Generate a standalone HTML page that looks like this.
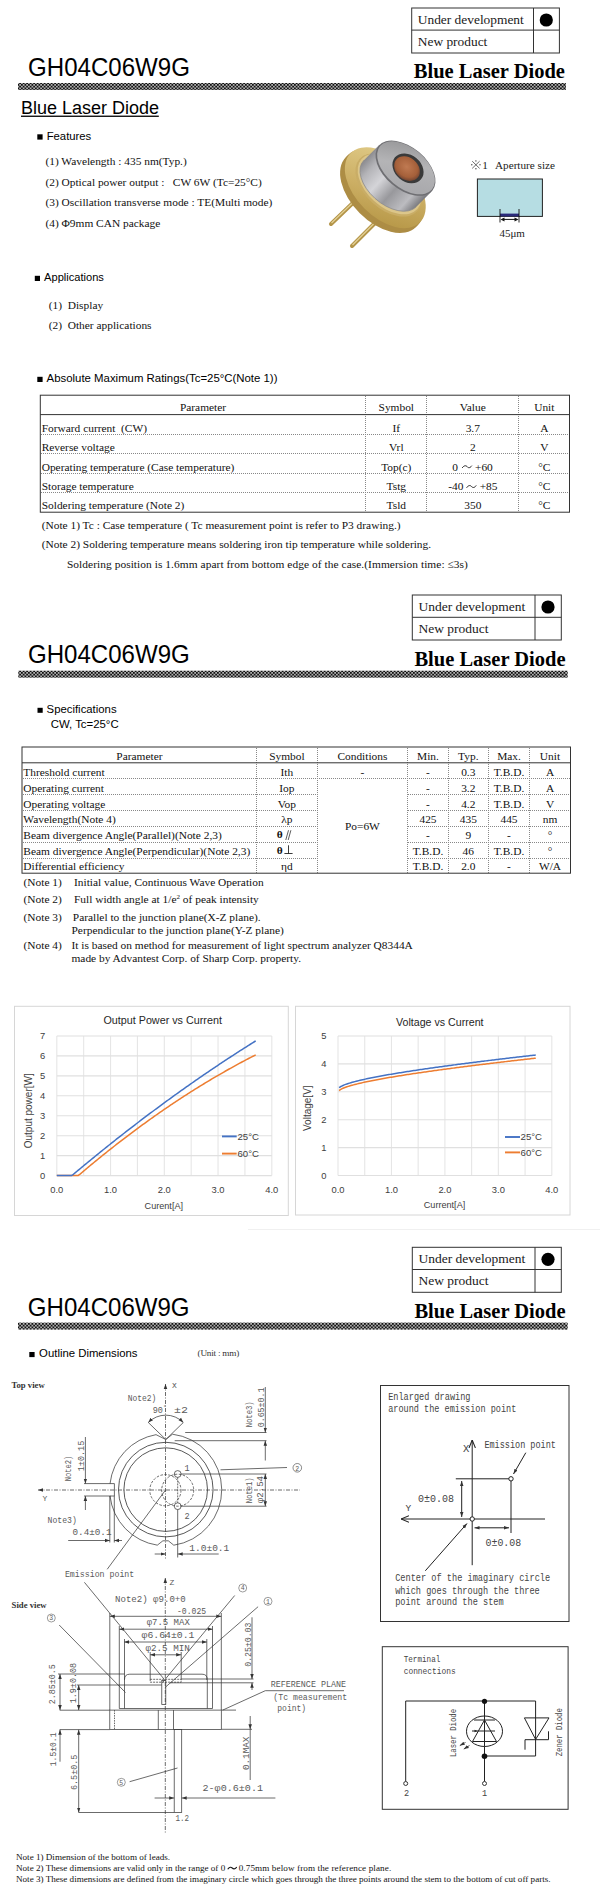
<!DOCTYPE html>
<html>
<head>
<meta charset="utf-8">
<style>
html,body{margin:0;padding:0;background:#fff;}
body{width:600px;height:1900px;position:relative;overflow:hidden;font-family:"Liberation Serif",serif;color:#111;}
svg.layer{position:absolute;left:0;top:0;width:600px;height:1900px;overflow:visible;}
.sans{font-family:"Liberation Sans",sans-serif;}
.serif{font-family:"Liberation Serif",serif;}
.mono{font-family:"Liberation Mono",monospace;}
</style>
</head>
<body>
<svg class="layer" width="600" height="1900" viewBox="0 0 600 1900">
<defs>
  <pattern id="hatch" x="0" y="0" width="3.5" height="3.5" patternUnits="userSpaceOnUse">
    <rect width="3.5" height="3.5" fill="#b0b0b0"/>
    <rect x="0" y="0" width="1.75" height="1.75" fill="#111"/>
    <rect x="1.75" y="1.75" width="1.75" height="1.75" fill="#111"/>
  </pattern>
</defs>

<!-- ============ PAGE 1 HEADER ============ -->
<g id="hdr1">
  <rect x="411.7" y="8" width="147.7" height="45" fill="none" stroke="#333" stroke-width="1"/>
  <line x1="411.7" y1="30.1" x2="559.4" y2="30.1" stroke="#333" stroke-width="1"/>
  <line x1="533.5" y1="8" x2="533.5" y2="53" stroke="#333" stroke-width="1"/>
  <text x="417.8" y="24" class="serif" font-size="13.4" fill="#1a1a1a">Under development</text>
  <text x="417.8" y="46" class="serif" font-size="13.4" fill="#1a1a1a">New product</text>
  <circle cx="546.3" cy="20" r="6.6" fill="#000"/>
  <text x="28.1" y="76.2" class="sans" font-size="25" textLength="161.8" lengthAdjust="spacingAndGlyphs" fill="#000">GH04C06W9G</text>
  <text x="413.8" y="78" class="serif" font-size="20.5" font-weight="bold" fill="#000">Blue Laser Diode</text>
  <rect x="18" y="83" width="548" height="7" fill="url(#hatch)"/>
</g>

<!-- ============ PAGE 1 BODY ============ -->
<g id="p1">
  <text x="21" y="114.3" class="sans" font-size="18" fill="#000">Blue Laser Diode</text>
  <rect x="21" y="115.6" width="137.8" height="1.3" fill="#000"/>

  <rect x="37.3" y="134.3" width="5.3" height="5.3" fill="#000"/>
  <text x="46.7" y="140" class="sans" font-size="11.3" fill="#000">Features</text>
  <g class="serif" font-size="11.4" fill="#111">
    <text x="45.4" y="165.4">(1) Wavelength : 435 nm(Typ.)</text>
    <text x="45.4" y="185.8">(2) Optical power output :&#160;&#160; CW 6W (Tc=25°C)</text>
    <text x="45.4" y="206">(3) Oscillation transverse mode : TE(Multi mode)</text>
    <text x="45.4" y="227">(4) Φ9mm CAN package</text>
  </g>

  <rect x="34.8" y="275.8" width="5.2" height="5.2" fill="#000"/>
  <text x="44.1" y="281" class="sans" font-size="11.1" fill="#000">Applications</text>
  <g class="serif" font-size="11.4" fill="#111">
    <text x="48.75" y="309">(1)&#160; Display</text>
    <text x="48.75" y="328.75">(2)&#160; Other applications</text>
  </g>

  <rect x="37.3" y="376.8" width="5.3" height="5.2" fill="#000"/>
  <text x="46.6" y="382" class="sans" font-size="11.4" fill="#000">Absolute Maximum Ratings(Tc=25°C(Note 1))</text>
</g>

<!-- ============ PRODUCT PHOTO ============ -->
<defs>
  <linearGradient id="gold" x1="0" y1="0" x2="1" y2="1">
    <stop offset="0" stop-color="#e4d08e"/>
    <stop offset="0.5" stop-color="#cdb066"/>
    <stop offset="1" stop-color="#b0903e"/>
  </linearGradient>
  <linearGradient id="goldside" x1="0" y1="0" x2="1" y2="1">
    <stop offset="0" stop-color="#c7a24a"/>
    <stop offset="1" stop-color="#9a7626"/>
  </linearGradient>
  <linearGradient id="silver" x1="0" y1="0" x2="1" y2="0.7">
    <stop offset="0" stop-color="#8a8a8e"/>
    <stop offset="0.22" stop-color="#d2d2d6"/>
    <stop offset="0.5" stop-color="#8c8c90"/>
    <stop offset="0.75" stop-color="#c4c4c8"/>
    <stop offset="1" stop-color="#707074"/>
  </linearGradient>
  <linearGradient id="silvertop" x1="0" y1="0" x2="1" y2="1">
    <stop offset="0" stop-color="#8e8e90"/>
    <stop offset="0.45" stop-color="#b4b4b6"/>
    <stop offset="1" stop-color="#a4a4a8"/>
  </linearGradient>
  <radialGradient id="win" cx="0.45" cy="0.45" r="0.6">
    <stop offset="0" stop-color="#c07a52"/>
    <stop offset="0.7" stop-color="#a5603a"/>
    <stop offset="1" stop-color="#6a4030"/>
  </radialGradient>
  <linearGradient id="pin" x1="0" y1="0" x2="1" y2="0">
    <stop offset="0" stop-color="#a8862e"/>
    <stop offset="0.5" stop-color="#e8d090"/>
    <stop offset="1" stop-color="#b08c38"/>
  </linearGradient>
</defs>
<g id="photo">
  <!-- pins -->
  <line x1="331" y1="224" x2="356" y2="200" stroke="#b39448" stroke-width="4" stroke-linecap="round"/>
  <line x1="331.5" y1="223" x2="356" y2="199.5" stroke="#e4d196" stroke-width="1.2"/>
  <line x1="352" y1="246" x2="376" y2="222" stroke="#b39448" stroke-width="4" stroke-linecap="round"/>
  <line x1="352.5" y1="245" x2="376" y2="221.5" stroke="#e4d196" stroke-width="1.2"/>
  <!-- flange side -->
  <g fill="#ad8d45">
    <ellipse cx="381" cy="192" rx="49.5" ry="30" transform="rotate(45 381 192)"/>
    <ellipse cx="383" cy="190" rx="49.5" ry="30" transform="rotate(45 383 190)"/>
  </g>
  <!-- flange top -->
  <ellipse cx="385.3" cy="187.7" rx="49" ry="29.5" transform="rotate(45 385.3 187.7)" fill="url(#gold)"/>
  <ellipse cx="388.5" cy="185" rx="39" ry="24" transform="rotate(42 388.5 185)" fill="#c9ad66"/>
  <ellipse cx="389.5" cy="184" rx="37.5" ry="23" transform="rotate(42 389.5 184)" fill="#dcc68a"/>
  <!-- can side -->
  <linearGradient id="canside" gradientUnits="userSpaceOnUse" x1="362" y1="158" x2="418" y2="209">
    <stop offset="0" stop-color="#7e7e82"/>
    <stop offset="0.18" stop-color="#b4b4b8"/>
    <stop offset="0.38" stop-color="#d4d4d8"/>
    <stop offset="0.6" stop-color="#98989c"/>
    <stop offset="0.82" stop-color="#bcbcc0"/>
    <stop offset="1" stop-color="#6c6c70"/>
  </linearGradient>
  <path d="M363.96 160.26 A35 21 40 0 0 416.04 206.94 L431.54 191.54 L379.46 144.86 Z" fill="url(#canside)"/>
  <path d="M363.96 160.26 A35 21 40 0 0 416.04 206.94" fill="none" stroke="#8a8a8e" stroke-width="0.8"/>
  <!-- can top face -->
  <ellipse cx="405.5" cy="168.2" rx="35" ry="21" transform="rotate(40 405.5 168.2)" fill="#6f6f73"/>
  <ellipse cx="406" cy="167.8" rx="33.8" ry="19.9" transform="rotate(40 406 167.8)" fill="url(#silvertop)"/>
  <!-- window -->
  <ellipse cx="408" cy="168.3" rx="17" ry="13.2" transform="rotate(40 408 168.3)" fill="#3a3a3a"/>
  <ellipse cx="407" cy="168.6" rx="14" ry="11" transform="rotate(40 407 168.6)" fill="url(#win)"/>
</g>

<!-- ============ APERTURE ============ -->
<g id="aperture">
  <g stroke="#444" stroke-width="0.8"><line x1="472.2" y1="161.2" x2="479.6" y2="168.4"/><line x1="479.6" y1="161.2" x2="472.2" y2="168.4"/></g>
  <g fill="#444"><circle cx="475.9" cy="160.9" r="0.7"/><circle cx="475.9" cy="168.8" r="0.7"/><circle cx="471.8" cy="164.8" r="0.7"/><circle cx="480" cy="164.8" r="0.7"/></g>
  <text x="482.3" y="168.9" class="serif" font-size="11.2" fill="#222">1</text>
  <text x="495" y="168.9" class="serif" font-size="11.2" fill="#222">Aperture size</text>
  <rect x="477.4" y="179" width="65" height="37.4" fill="#b6dde3" stroke="#222" stroke-width="1"/>
  <rect x="500" y="213.6" width="19" height="2.8" fill="#2a2a7a"/>
  <line x1="500" y1="209" x2="500" y2="222.5" stroke="#111" stroke-width="0.9"/>
  <line x1="519" y1="209" x2="519" y2="222.5" stroke="#111" stroke-width="0.9"/>
  <line x1="502" y1="219.4" x2="517" y2="219.4" stroke="#111" stroke-width="1"/>
  <path d="M500.5 219.4 L504.5 217.4 L504.5 221.4 Z M518.5 219.4 L514.5 217.4 L514.5 221.4 Z" fill="#111"/>
  <text x="499.4" y="237" class="serif" font-size="11" fill="#222">45μm</text>
</g>

<!-- ============ ABS MAX TABLE ============ -->
<g id="t1">
  <g stroke="#888" stroke-width="1" stroke-dasharray="1,1">
    <line x1="41" y1="434.5" x2="569" y2="434.5"/>
    <line x1="41" y1="453.5" x2="569" y2="453.5"/>
    <line x1="41" y1="473.5" x2="569" y2="473.5"/>
    <line x1="41" y1="492.5" x2="569" y2="492.5"/>
    <line x1="365.5" y1="396" x2="365.5" y2="512"/>
    <line x1="426.5" y1="396" x2="426.5" y2="512"/>
    <line x1="518.5" y1="396" x2="518.5" y2="512"/>
  </g>
  <rect x="40.3" y="395.2" width="529.2" height="117" fill="none" stroke="#333" stroke-width="1"/>
  <line x1="40.3" y1="414.6" x2="569.5" y2="414.6" stroke="#333" stroke-width="1"/>
  <g class="serif" font-size="11.4" fill="#111">
    <text x="203" y="411.2" text-anchor="middle">Parameter</text>
    <text x="396.3" y="411.2" text-anchor="middle">Symbol</text>
    <text x="472.8" y="411.2" text-anchor="middle">Value</text>
    <text x="544.3" y="411.2" text-anchor="middle">Unit</text>
    <text x="41.7" y="431.7">Forward current&#160; (CW)</text>
    <text x="41.7" y="451.2">Reverse voltage</text>
    <text x="41.7" y="470.7">Operating temperature (Case temperature)</text>
    <text x="41.7" y="490">Storage temperature</text>
    <text x="41.7" y="509.3">Soldering temperature (Note 2)</text>
    <text x="396.3" y="431.7" text-anchor="middle">If</text>
    <text x="396.3" y="451.2" text-anchor="middle">Vrl</text>
    <text x="396.3" y="470.7" text-anchor="middle">Top(c)</text>
    <text x="396.3" y="490" text-anchor="middle">Tstg</text>
    <text x="396.3" y="509.3" text-anchor="middle">Tsld</text>
    <text x="472.8" y="431.7" text-anchor="middle">3.7</text>
    <text x="472.8" y="451.2" text-anchor="middle">2</text>
    <text x="452.3" y="470.7">0</text><text x="475" y="470.7">+60</text>
    <text x="448.2" y="490">-40</text><text x="479.7" y="490">+85</text>
    <text x="472.8" y="509.3" text-anchor="middle">350</text>
    <text x="544.3" y="431.7" text-anchor="middle">A</text>
    <text x="544.3" y="451.2" text-anchor="middle">V</text>
    <text x="544.3" y="470.7" text-anchor="middle">°C</text>
    <text x="544.3" y="490" text-anchor="middle">°C</text>
    <text x="544.3" y="509.3" text-anchor="middle">°C</text>
  </g>
  <g class="serif" font-size="11.4" fill="#111">
    <text x="41.7" y="528.9">(Note 1) Tc : Case temperature ( Tc measurement point is refer to P3 drawing.)</text>
    <text x="41.7" y="548.4">(Note 2) Soldering temperature means soldering iron tip temperature while soldering.</text>
    <text x="66.9" y="568.2" textLength="401" lengthAdjust="spacing">Soldering position is 1.6mm apart from bottom edge of the case.(Immersion time: ≤3s)</text>
  </g>
</g>

<!-- ============ PAGE 2 HEADER ============ -->
<g id="hdr2">
  <rect x="412.3" y="595" width="149" height="45" fill="none" stroke="#333" stroke-width="1"/>
  <line x1="412.3" y1="617.3" x2="561.3" y2="617.3" stroke="#333" stroke-width="1"/>
  <line x1="535" y1="595" x2="535" y2="640" stroke="#333" stroke-width="1"/>
  <text x="418.5" y="611.2" class="serif" font-size="13.5" fill="#1a1a1a">Under development</text>
  <text x="418.5" y="633.2" class="serif" font-size="13.5" fill="#1a1a1a">New product</text>
  <circle cx="548" cy="607" r="6.6" fill="#000"/>
  <text x="28" y="663.4" class="sans" font-size="25.7" textLength="161.8" lengthAdjust="spacingAndGlyphs" fill="#000">GH04C06W9G</text>
  <text x="414.4" y="665.8" class="serif" font-size="20.5" font-weight="bold" fill="#000">Blue Laser Diode</text>
  <rect x="18.3" y="670.7" width="549.4" height="7" fill="url(#hatch)"/>
</g>

<!-- ============ SPEC TABLE ============ -->
<g id="p2">
  <rect x="37.5" y="707.8" width="5.2" height="5" fill="#000"/>
  <text x="46.6" y="712.7" class="sans" font-size="11.35" fill="#000">Specifications</text>
  <text x="50.7" y="728.3" class="sans" font-size="11.4" fill="#000">CW, Tc=25°C</text>

  <g stroke="#888" stroke-width="1" stroke-dasharray="1,1">
    <line x1="23" y1="778.5" x2="570" y2="778.5"/>
    <line x1="23" y1="794.5" x2="317" y2="794.5"/>
    <line x1="23" y1="810.5" x2="317" y2="810.5"/>
    <line x1="23" y1="826.5" x2="317" y2="826.5"/>
    <line x1="23" y1="842.5" x2="317" y2="842.5"/>
    <line x1="23" y1="858.5" x2="317" y2="858.5"/>
    <line x1="408" y1="794.5" x2="570" y2="794.5"/>
    <line x1="408" y1="810.5" x2="570" y2="810.5"/>
    <line x1="408" y1="826.5" x2="570" y2="826.5"/>
    <line x1="408" y1="842.5" x2="570" y2="842.5"/>
    <line x1="408" y1="858.5" x2="570" y2="858.5"/>
    <line x1="256.5" y1="748" x2="256.5" y2="873"/>
    <line x1="317.5" y1="748" x2="317.5" y2="873"/>
    <line x1="407.5" y1="748" x2="407.5" y2="873"/>
    <line x1="448.5" y1="748" x2="448.5" y2="873"/>
    <line x1="488.5" y1="748" x2="488.5" y2="873"/>
    <line x1="529.5" y1="748" x2="529.5" y2="873"/>
  </g>
  <rect x="22" y="747" width="548.5" height="126.2" fill="none" stroke="#333" stroke-width="1"/>
  <line x1="22" y1="762.8" x2="570.5" y2="762.8" stroke="#333" stroke-width="1"/>
  <g class="serif" font-size="11.4" fill="#111">
    <text x="139.4" y="759.5" text-anchor="middle">Parameter</text>
    <text x="286.9" y="759.5" text-anchor="middle">Symbol</text>
    <text x="362.4" y="759.5" text-anchor="middle">Conditions</text>
    <text x="428" y="759.5" text-anchor="middle">Min.</text>
    <text x="468.3" y="759.5" text-anchor="middle">Typ.</text>
    <text x="509" y="759.5" text-anchor="middle">Max.</text>
    <text x="550" y="759.5" text-anchor="middle">Unit</text>

    <text x="23.3" y="775.8">Threshold current</text>
    <text x="23.3" y="791.8">Operating current</text>
    <text x="23.3" y="807.6">Operating voltage</text>
    <text x="23.3" y="823.3">Wavelength(Note 4)</text>
    <text x="23.3" y="839">Beam divergence Angle(Parallel)(Note 2,3)</text>
    <text x="23.3" y="854.8">Beam divergence Angle(Perpendicular)(Note 2,3)</text>
    <text x="23.3" y="870.3">Differential efficiency</text>

    <text x="286.9" y="775.8" text-anchor="middle">Ith</text>
    <text x="286.9" y="791.8" text-anchor="middle">Iop</text>
    <text x="286.9" y="807.6" text-anchor="middle">Vop</text>
    <text x="286.9" y="823.3" text-anchor="middle">λp</text>
    <text x="276.8" y="838.4" font-weight="bold">θ</text>
    <text x="276.8" y="854" font-weight="bold">θ</text>
    <text x="286.9" y="870.3" text-anchor="middle">ηd</text>

    <text x="362.4" y="775.8" text-anchor="middle">-</text>
    <text x="362.4" y="830" text-anchor="middle">Po=6W</text>

    <text x="428" y="775.8" text-anchor="middle">-</text>
    <text x="428" y="791.8" text-anchor="middle">-</text>
    <text x="428" y="807.6" text-anchor="middle">-</text>
    <text x="428" y="823.3" text-anchor="middle">425</text>
    <text x="428" y="839" text-anchor="middle">-</text>
    <text x="428" y="854.8" text-anchor="middle">T.B.D.</text>
    <text x="428" y="870.3" text-anchor="middle">T.B.D.</text>

    <text x="468.3" y="775.8" text-anchor="middle">0.3</text>
    <text x="468.3" y="791.8" text-anchor="middle">3.2</text>
    <text x="468.3" y="807.6" text-anchor="middle">4.2</text>
    <text x="468.3" y="823.3" text-anchor="middle">435</text>
    <text x="468.3" y="839" text-anchor="middle">9</text>
    <text x="468.3" y="854.8" text-anchor="middle">46</text>
    <text x="468.3" y="870.3" text-anchor="middle">2.0</text>

    <text x="509" y="775.8" text-anchor="middle">T.B.D.</text>
    <text x="509" y="791.8" text-anchor="middle">T.B.D.</text>
    <text x="509" y="807.6" text-anchor="middle">T.B.D.</text>
    <text x="509" y="823.3" text-anchor="middle">445</text>
    <text x="509" y="839" text-anchor="middle">-</text>
    <text x="509" y="854.8" text-anchor="middle">T.B.D.</text>
    <text x="509" y="870.3" text-anchor="middle">-</text>

    <text x="550" y="775.8" text-anchor="middle">A</text>
    <text x="550" y="791.8" text-anchor="middle">A</text>
    <text x="550" y="807.6" text-anchor="middle">V</text>
    <text x="550" y="823.3" text-anchor="middle">nm</text>
    <text x="550" y="839" text-anchor="middle">°</text>
    <text x="550" y="854.8" text-anchor="middle">°</text>
    <text x="550" y="870.3" text-anchor="middle">W/A</text>
  </g>
  <g class="serif" font-size="11.4" fill="#111">
    <text x="23.5" y="886.2">(Note 1)</text><text x="74" y="886.2">Initial value, Continuous Wave Operation</text>
    <text x="23.5" y="902.8">(Note 2)</text><text x="74" y="902.8">Full width angle at 1/e<tspan font-size="7" dy="-4">2</tspan><tspan dy="4"> of peak intensity</tspan></text>
    <text x="23.5" y="921.2">(Note 3)</text><text x="72.8" y="921.2">Parallel to the junction plane(X-Z plane).</text>
    <text x="71.5" y="933.6">Perpendicular to the junction plane(Y-Z plane)</text>
    <text x="23.5" y="948.5">(Note 4)</text><text x="71.5" y="948.5">It is based on method for measurement of light spectrum analyzer Q8344A</text>
    <text x="71.5" y="962.4">made by Advantest Corp. of Sharp Corp. property.</text>
  </g>
</g>

<!-- ============ CHARTS ============ -->
<g id="chart1">
<rect x="14.5" y="1006.3" width="273.8" height="209.2" fill="#fff" stroke="#d6d6d6" stroke-width="1"/>
<line x1="56.80" y1="1035.95" x2="56.80" y2="1175.60" stroke="#e6e6e6" stroke-width="1.1"/>
<line x1="83.67" y1="1035.95" x2="83.67" y2="1175.60" stroke="#e6e6e6" stroke-width="1.1"/>
<line x1="110.55" y1="1035.95" x2="110.55" y2="1175.60" stroke="#e6e6e6" stroke-width="1.1"/>
<line x1="137.43" y1="1035.95" x2="137.43" y2="1175.60" stroke="#e6e6e6" stroke-width="1.1"/>
<line x1="164.30" y1="1035.95" x2="164.30" y2="1175.60" stroke="#e6e6e6" stroke-width="1.1"/>
<line x1="191.18" y1="1035.95" x2="191.18" y2="1175.60" stroke="#e6e6e6" stroke-width="1.1"/>
<line x1="218.05" y1="1035.95" x2="218.05" y2="1175.60" stroke="#e6e6e6" stroke-width="1.1"/>
<line x1="244.93" y1="1035.95" x2="244.93" y2="1175.60" stroke="#e6e6e6" stroke-width="1.1"/>
<line x1="271.80" y1="1035.95" x2="271.80" y2="1175.60" stroke="#e6e6e6" stroke-width="1.1"/>
<line x1="56.80" y1="1175.60" x2="271.80" y2="1175.60" stroke="#e0e0e0" stroke-width="1.1"/>
<line x1="56.80" y1="1155.65" x2="271.80" y2="1155.65" stroke="#e0e0e0" stroke-width="1.1"/>
<line x1="56.80" y1="1135.70" x2="271.80" y2="1135.70" stroke="#e0e0e0" stroke-width="1.1"/>
<line x1="56.80" y1="1115.75" x2="271.80" y2="1115.75" stroke="#e0e0e0" stroke-width="1.1"/>
<line x1="56.80" y1="1095.80" x2="271.80" y2="1095.80" stroke="#e0e0e0" stroke-width="1.1"/>
<line x1="56.80" y1="1075.85" x2="271.80" y2="1075.85" stroke="#e0e0e0" stroke-width="1.1"/>
<line x1="56.80" y1="1055.90" x2="271.80" y2="1055.90" stroke="#e0e0e0" stroke-width="1.1"/>
<line x1="56.80" y1="1035.95" x2="271.80" y2="1035.95" stroke="#e0e0e0" stroke-width="1.1"/>
<g class="sans" font-size="9.4" fill="#404040">
<text x="45.3" y="1179.00" text-anchor="end">0</text>
<text x="45.3" y="1159.05" text-anchor="end">1</text>
<text x="45.3" y="1139.10" text-anchor="end">2</text>
<text x="45.3" y="1119.15" text-anchor="end">3</text>
<text x="45.3" y="1099.20" text-anchor="end">4</text>
<text x="45.3" y="1079.25" text-anchor="end">5</text>
<text x="45.3" y="1059.30" text-anchor="end">6</text>
<text x="45.3" y="1039.35" text-anchor="end">7</text>
<text x="56.80" y="1193.2" text-anchor="middle">0.0</text>
<text x="110.55" y="1193.2" text-anchor="middle">1.0</text>
<text x="164.30" y="1193.2" text-anchor="middle">2.0</text>
<text x="218.05" y="1193.2" text-anchor="middle">3.0</text>
<text x="271.80" y="1193.2" text-anchor="middle">4.0</text>
</g>
<text x="103.4" y="1024.3" class="sans" font-size="10.8" textLength="118.5" lengthAdjust="spacingAndGlyphs" fill="#262626">Output Power vs Current</text>
<text x="144.6" y="1208.6" class="sans" font-size="9.1" fill="#404040">Curent[A]</text>
<text transform="translate(31.6 1148.3) rotate(-90)" class="sans" font-size="10" fill="#404040">Output power[W]</text>
<polyline points="56.80,1175.60 58.13,1175.60 59.45,1175.60 60.78,1175.60 62.10,1175.60 63.43,1175.60 64.75,1175.60 66.08,1175.60 67.41,1175.60 68.73,1175.60 70.06,1175.60 71.38,1175.60 72.71,1175.60 74.04,1175.60 75.36,1175.60 76.69,1175.60 78.01,1175.60 79.34,1174.71 80.66,1173.59 81.99,1172.46 83.32,1171.34 84.64,1170.23 85.97,1169.11 87.29,1168.00 88.62,1166.90 89.95,1165.79 91.27,1164.70 92.60,1163.60 93.92,1162.51 95.25,1161.42 96.57,1160.33 97.90,1159.25 99.23,1158.17 100.55,1157.09 101.88,1156.02 103.20,1154.95 104.53,1153.89 105.86,1152.83 107.18,1151.77 108.51,1150.71 109.83,1149.66 111.16,1148.61 112.48,1147.57 113.81,1146.53 115.14,1145.49 116.46,1144.45 117.79,1143.42 119.11,1142.40 120.44,1141.37 121.77,1140.35 123.09,1139.33 124.42,1138.32 125.74,1137.31 127.07,1136.30 128.39,1135.30 129.72,1134.30 131.05,1133.30 132.37,1132.31 133.70,1131.32 135.02,1130.33 136.35,1129.35 137.68,1128.37 139.00,1127.39 140.33,1126.42 141.65,1125.45 142.98,1124.48 144.31,1123.52 145.63,1122.56 146.96,1121.60 148.28,1120.65 149.61,1119.70 150.93,1118.76 152.26,1117.82 153.59,1116.88 154.91,1115.94 156.24,1115.01 157.56,1114.08 158.89,1113.16 160.22,1112.23 161.54,1111.32 162.87,1110.40 164.19,1109.49 165.52,1108.58 166.84,1107.68 168.17,1106.78 169.50,1105.88 170.82,1104.99 172.15,1104.09 173.47,1103.21 174.80,1102.32 176.12,1101.44 177.45,1100.57 178.78,1099.69 180.10,1098.82 181.43,1097.96 182.75,1097.09 184.08,1096.23 185.41,1095.38 186.73,1094.52 188.06,1093.67 189.38,1092.83 190.71,1091.98 192.04,1091.14 193.36,1090.31 194.69,1089.48 196.01,1088.65 197.34,1087.82 198.66,1087.00 199.99,1086.18 201.32,1085.36 202.64,1084.55 203.97,1083.74 205.29,1082.94 206.62,1082.14 207.94,1081.34 209.27,1080.54 210.60,1079.75 211.92,1078.96 213.25,1078.18 214.57,1077.40 215.90,1076.62 217.23,1075.85 218.55,1075.08 219.88,1074.31 221.20,1073.54 222.53,1072.78 223.86,1072.03 225.18,1071.27 226.51,1070.52 227.83,1069.77 229.16,1069.03 230.48,1068.29 231.81,1067.55 233.14,1066.82 234.46,1066.09 235.79,1065.36 237.11,1064.64 238.44,1063.92 239.77,1063.21 241.09,1062.49 242.42,1061.78 243.74,1061.08 245.07,1060.38 246.39,1059.68 247.72,1058.98 249.05,1058.29 250.37,1057.60 251.70,1056.91 253.02,1056.23 254.35,1055.55 255.68,1054.88" fill="none" stroke="#ed7d31" stroke-width="1.5" stroke-linejoin="round"/>
<polyline points="56.80,1175.60 58.13,1175.60 59.45,1175.60 60.78,1175.60 62.10,1175.60 63.43,1175.60 64.75,1175.60 66.08,1175.60 67.41,1175.60 68.73,1175.60 70.06,1175.60 71.38,1175.60 72.71,1174.88 74.04,1173.76 75.36,1172.65 76.69,1171.54 78.01,1170.43 79.34,1169.33 80.66,1168.22 81.99,1167.12 83.32,1166.02 84.64,1164.92 85.97,1163.83 87.29,1162.74 88.62,1161.64 89.95,1160.56 91.27,1159.47 92.60,1158.38 93.92,1157.30 95.25,1156.22 96.57,1155.14 97.90,1154.07 99.23,1152.99 100.55,1151.92 101.88,1150.85 103.20,1149.78 104.53,1148.71 105.86,1147.65 107.18,1146.59 108.51,1145.53 109.83,1144.47 111.16,1143.42 112.48,1142.36 113.81,1141.31 115.14,1140.26 116.46,1139.21 117.79,1138.17 119.11,1137.13 120.44,1136.09 121.77,1135.05 123.09,1134.01 124.42,1132.98 125.74,1131.94 127.07,1130.91 128.39,1129.88 129.72,1128.86 131.05,1127.83 132.37,1126.81 133.70,1125.79 135.02,1124.78 136.35,1123.76 137.68,1122.75 139.00,1121.73 140.33,1120.72 141.65,1119.72 142.98,1118.71 144.31,1117.71 145.63,1116.71 146.96,1115.71 148.28,1114.71 149.61,1113.72 150.93,1112.72 152.26,1111.73 153.59,1110.75 154.91,1109.76 156.24,1108.78 157.56,1107.79 158.89,1106.81 160.22,1105.84 161.54,1104.86 162.87,1103.89 164.19,1102.91 165.52,1101.94 166.84,1100.98 168.17,1100.01 169.50,1099.05 170.82,1098.09 172.15,1097.13 173.47,1096.17 174.80,1095.22 176.12,1094.26 177.45,1093.31 178.78,1092.36 180.10,1091.42 181.43,1090.47 182.75,1089.53 184.08,1088.59 185.41,1087.65 186.73,1086.72 188.06,1085.78 189.38,1084.85 190.71,1083.92 192.04,1082.99 193.36,1082.07 194.69,1081.14 196.01,1080.22 197.34,1079.30 198.66,1078.38 199.99,1077.47 201.32,1076.56 202.64,1075.65 203.97,1074.74 205.29,1073.83 206.62,1072.93 207.94,1072.02 209.27,1071.12 210.60,1070.22 211.92,1069.33 213.25,1068.43 214.57,1067.54 215.90,1066.65 217.23,1065.76 218.55,1064.88 219.88,1063.99 221.20,1063.11 222.53,1062.23 223.86,1061.36 225.18,1060.48 226.51,1059.61 227.83,1058.74 229.16,1057.87 230.48,1057.00 231.81,1056.13 233.14,1055.27 234.46,1054.41 235.79,1053.55 237.11,1052.70 238.44,1051.84 239.77,1050.99 241.09,1050.14 242.42,1049.29 243.74,1048.45 245.07,1047.60 246.39,1046.76 247.72,1045.92 249.05,1045.08 250.37,1044.25 251.70,1043.41 253.02,1042.58 254.35,1041.75 255.68,1040.93" fill="none" stroke="#4472c4" stroke-width="1.5" stroke-linejoin="round"/>
<line x1="222" y1="1136.4" x2="236.7" y2="1136.4" stroke="#4472c4" stroke-width="1.9"/>
<line x1="222" y1="1153.6" x2="236.7" y2="1153.6" stroke="#ed7d31" stroke-width="1.9"/>
<g class="sans" font-size="9.6" fill="#404040"><text x="237.5" y="1140">25°C</text><text x="237.5" y="1157">60°C</text></g>
</g>
<g id="chart2">
<rect x="295.5" y="1006.3" width="274.5" height="208.7" fill="#fff" stroke="#d6d6d6" stroke-width="1"/>
<line x1="338.00" y1="1036.00" x2="338.00" y2="1175.50" stroke="#e6e6e6" stroke-width="1.1"/>
<line x1="364.73" y1="1036.00" x2="364.73" y2="1175.50" stroke="#e6e6e6" stroke-width="1.1"/>
<line x1="391.45" y1="1036.00" x2="391.45" y2="1175.50" stroke="#e6e6e6" stroke-width="1.1"/>
<line x1="418.17" y1="1036.00" x2="418.17" y2="1175.50" stroke="#e6e6e6" stroke-width="1.1"/>
<line x1="444.90" y1="1036.00" x2="444.90" y2="1175.50" stroke="#e6e6e6" stroke-width="1.1"/>
<line x1="471.62" y1="1036.00" x2="471.62" y2="1175.50" stroke="#e6e6e6" stroke-width="1.1"/>
<line x1="498.35" y1="1036.00" x2="498.35" y2="1175.50" stroke="#e6e6e6" stroke-width="1.1"/>
<line x1="525.07" y1="1036.00" x2="525.07" y2="1175.50" stroke="#e6e6e6" stroke-width="1.1"/>
<line x1="551.80" y1="1036.00" x2="551.80" y2="1175.50" stroke="#e6e6e6" stroke-width="1.1"/>
<line x1="338.00" y1="1175.50" x2="551.80" y2="1175.50" stroke="#e0e0e0" stroke-width="1.1"/>
<line x1="338.00" y1="1147.60" x2="551.80" y2="1147.60" stroke="#e0e0e0" stroke-width="1.1"/>
<line x1="338.00" y1="1119.70" x2="551.80" y2="1119.70" stroke="#e0e0e0" stroke-width="1.1"/>
<line x1="338.00" y1="1091.80" x2="551.80" y2="1091.80" stroke="#e0e0e0" stroke-width="1.1"/>
<line x1="338.00" y1="1063.90" x2="551.80" y2="1063.90" stroke="#e0e0e0" stroke-width="1.1"/>
<line x1="338.00" y1="1036.00" x2="551.80" y2="1036.00" stroke="#e0e0e0" stroke-width="1.1"/>
<g class="sans" font-size="9.4" fill="#404040">
<text x="326.5" y="1178.90" text-anchor="end">0</text>
<text x="326.5" y="1151.00" text-anchor="end">1</text>
<text x="326.5" y="1123.10" text-anchor="end">2</text>
<text x="326.5" y="1095.20" text-anchor="end">3</text>
<text x="326.5" y="1067.30" text-anchor="end">4</text>
<text x="326.5" y="1039.40" text-anchor="end">5</text>
<text x="338.00" y="1192.6" text-anchor="middle">0.0</text>
<text x="391.45" y="1192.6" text-anchor="middle">1.0</text>
<text x="444.90" y="1192.6" text-anchor="middle">2.0</text>
<text x="498.35" y="1192.6" text-anchor="middle">3.0</text>
<text x="551.80" y="1192.6" text-anchor="middle">4.0</text>
</g>
<text x="396" y="1026.3" class="sans" font-size="11.5" textLength="87.5" lengthAdjust="spacingAndGlyphs" fill="#262626">Voltage vs Current</text>
<text x="423.8" y="1208" class="sans" font-size="9.1" fill="#404040">Current[A]</text>
<text transform="translate(311.3 1131) rotate(-90)" class="sans" font-size="10" fill="#404040">Voltage[V]</text>
<polyline points="339.07,1090.55 340.38,1089.61 341.69,1088.90 343.00,1088.30 344.31,1087.76 345.63,1087.27 346.94,1086.81 348.25,1086.39 349.56,1085.98 350.87,1085.59 352.18,1085.22 353.49,1084.86 354.80,1084.52 356.12,1084.18 357.43,1083.86 358.74,1083.54 360.05,1083.23 361.36,1082.93 362.67,1082.63 363.98,1082.35 365.30,1082.06 366.61,1081.78 367.92,1081.51 369.23,1081.24 370.54,1080.97 371.85,1080.71 373.16,1080.45 374.47,1080.20 375.79,1079.95 377.10,1079.70 378.41,1079.45 379.72,1079.21 381.03,1078.97 382.34,1078.74 383.65,1078.50 384.96,1078.27 386.28,1078.04 387.59,1077.81 388.90,1077.59 390.21,1077.36 391.52,1077.14 392.83,1076.92 394.14,1076.70 395.46,1076.49 396.77,1076.27 398.08,1076.06 399.39,1075.85 400.70,1075.64 402.01,1075.43 403.32,1075.22 404.63,1075.02 405.95,1074.81 407.26,1074.61 408.57,1074.41 409.88,1074.21 411.19,1074.01 412.50,1073.81 413.81,1073.61 415.12,1073.42 416.44,1073.22 417.75,1073.03 419.06,1072.84 420.37,1072.65 421.68,1072.46 422.99,1072.27 424.30,1072.08 425.62,1071.89 426.93,1071.70 428.24,1071.52 429.55,1071.33 430.86,1071.15 432.17,1070.96 433.48,1070.78 434.79,1070.60 436.11,1070.42 437.42,1070.24 438.73,1070.06 440.04,1069.88 441.35,1069.70 442.66,1069.52 443.97,1069.34 445.28,1069.17 446.60,1068.99 447.91,1068.82 449.22,1068.64 450.53,1068.47 451.84,1068.30 453.15,1068.12 454.46,1067.95 455.78,1067.78 457.09,1067.61 458.40,1067.44 459.71,1067.27 461.02,1067.10 462.33,1066.93 463.64,1066.76 464.95,1066.60 466.27,1066.43 467.58,1066.26 468.89,1066.10 470.20,1065.93 471.51,1065.77 472.82,1065.60 474.13,1065.44 475.44,1065.27 476.76,1065.11 478.07,1064.95 479.38,1064.79 480.69,1064.62 482.00,1064.46 483.31,1064.30 484.62,1064.14 485.94,1063.98 487.25,1063.82 488.56,1063.66 489.87,1063.50 491.18,1063.34 492.49,1063.19 493.80,1063.03 495.11,1062.87 496.43,1062.71 497.74,1062.56 499.05,1062.40 500.36,1062.24 501.67,1062.09 502.98,1061.93 504.29,1061.78 505.60,1061.62 506.92,1061.47 508.23,1061.32 509.54,1061.16 510.85,1061.01 512.16,1060.86 513.47,1060.70 514.78,1060.55 516.10,1060.40 517.41,1060.25 518.72,1060.10 520.03,1059.94 521.34,1059.79 522.65,1059.64 523.96,1059.49 525.27,1059.34 526.59,1059.19 527.90,1059.04 529.21,1058.89 530.52,1058.75 531.83,1058.60 533.14,1058.45 534.45,1058.30 535.76,1058.15" fill="none" stroke="#ed7d31" stroke-width="1.5" stroke-linejoin="round"/>
<polyline points="339.07,1087.73 340.38,1086.78 341.69,1086.06 343.00,1085.45 344.31,1084.90 345.63,1084.41 346.94,1083.94 348.25,1083.51 349.56,1083.10 350.87,1082.71 352.18,1082.33 353.49,1081.97 354.80,1081.62 356.12,1081.28 357.43,1080.95 358.74,1080.63 360.05,1080.32 361.36,1080.01 362.67,1079.71 363.98,1079.42 365.30,1079.13 366.61,1078.85 367.92,1078.57 369.23,1078.30 370.54,1078.03 371.85,1077.77 373.16,1077.50 374.47,1077.25 375.79,1076.99 377.10,1076.74 378.41,1076.49 379.72,1076.25 381.03,1076.01 382.34,1075.77 383.65,1075.53 384.96,1075.30 386.28,1075.06 387.59,1074.83 388.90,1074.61 390.21,1074.38 391.52,1074.16 392.83,1073.93 394.14,1073.71 395.46,1073.49 396.77,1073.28 398.08,1073.06 399.39,1072.85 400.70,1072.64 402.01,1072.43 403.32,1072.22 404.63,1072.01 405.95,1071.80 407.26,1071.60 408.57,1071.39 409.88,1071.19 411.19,1070.99 412.50,1070.79 413.81,1070.59 415.12,1070.39 416.44,1070.20 417.75,1070.00 419.06,1069.81 420.37,1069.61 421.68,1069.42 422.99,1069.23 424.30,1069.04 425.62,1068.85 426.93,1068.66 428.24,1068.47 429.55,1068.29 430.86,1068.10 432.17,1067.91 433.48,1067.73 434.79,1067.55 436.11,1067.36 437.42,1067.18 438.73,1067.00 440.04,1066.82 441.35,1066.64 442.66,1066.46 443.97,1066.28 445.28,1066.10 446.60,1065.92 447.91,1065.75 449.22,1065.57 450.53,1065.40 451.84,1065.22 453.15,1065.05 454.46,1064.87 455.78,1064.70 457.09,1064.53 458.40,1064.36 459.71,1064.19 461.02,1064.01 462.33,1063.84 463.64,1063.67 464.95,1063.51 466.27,1063.34 467.58,1063.17 468.89,1063.00 470.20,1062.83 471.51,1062.67 472.82,1062.50 474.13,1062.34 475.44,1062.17 476.76,1062.01 478.07,1061.84 479.38,1061.68 480.69,1061.52 482.00,1061.35 483.31,1061.19 484.62,1061.03 485.94,1060.87 487.25,1060.70 488.56,1060.54 489.87,1060.38 491.18,1060.22 492.49,1060.06 493.80,1059.90 495.11,1059.75 496.43,1059.59 497.74,1059.43 499.05,1059.27 500.36,1059.11 501.67,1058.96 502.98,1058.80 504.29,1058.64 505.60,1058.49 506.92,1058.33 508.23,1058.18 509.54,1058.02 510.85,1057.87 512.16,1057.71 513.47,1057.56 514.78,1057.41 516.10,1057.25 517.41,1057.10 518.72,1056.95 520.03,1056.79 521.34,1056.64 522.65,1056.49 523.96,1056.34 525.27,1056.19 526.59,1056.04 527.90,1055.89 529.21,1055.74 530.52,1055.59 531.83,1055.44 533.14,1055.29 534.45,1055.14 535.76,1054.99" fill="none" stroke="#4472c4" stroke-width="1.5" stroke-linejoin="round"/>
<line x1="505" y1="1137" x2="520" y2="1137" stroke="#4472c4" stroke-width="1.9"/>
<line x1="505" y1="1152.4" x2="520" y2="1152.4" stroke="#ed7d31" stroke-width="1.9"/>
<g class="sans" font-size="9.6" fill="#404040"><text x="520.6" y="1140.2">25°C</text><text x="520.6" y="1156">60°C</text></g>
</g>

<line x1="248" y1="1229.5" x2="600" y2="1229.5" stroke="#f0f0f0" stroke-width="1"/>

<!-- ============ PAGE 3 HEADER ============ -->
<g id="hdr3">
  <rect x="412.3" y="1247.3" width="149" height="45" fill="none" stroke="#333" stroke-width="1"/>
  <line x1="412.3" y1="1269.5" x2="561.3" y2="1269.5" stroke="#333" stroke-width="1"/>
  <line x1="535" y1="1247.3" x2="535" y2="1292.3" stroke="#333" stroke-width="1"/>
  <text x="418.5" y="1263.4" class="serif" font-size="13.5" fill="#1a1a1a">Under development</text>
  <text x="418.5" y="1285.4" class="serif" font-size="13.5" fill="#1a1a1a">New product</text>
  <circle cx="548" cy="1259.3" r="6.6" fill="#000"/>
  <text x="27.8" y="1315.7" class="sans" font-size="25.7" textLength="161.8" lengthAdjust="spacingAndGlyphs" fill="#000">GH04C06W9G</text>
  <text x="414.4" y="1318" class="serif" font-size="20.5" font-weight="bold" fill="#000">Blue Laser Diode</text>
  <rect x="18" y="1322.6" width="549.7" height="7" fill="url(#hatch)"/>
</g>

<!-- ============ PAGE 3 BODY ============ -->
<g id="p3">
  <rect x="29.3" y="1352" width="5.3" height="5.1" fill="#000"/>
  <text x="39.1" y="1356.6" class="sans" font-size="11.35" fill="#000">Outline Dimensions</text>
  <text x="197.6" y="1355.6" class="serif" font-size="9.2" textLength="41.6" lengthAdjust="spacing" fill="#333">(Unit : mm)</text>
  <text x="11.5" y="1387.6" class="serif" font-size="8.7" font-weight="bold" fill="#333">Top view</text>
  <text x="11.6" y="1608.3" class="serif" font-size="8.7" font-weight="bold" fill="#333">Side view</text>
  <g class="serif" font-size="9.1" fill="#111">
    <text x="16" y="1860.2">Note 1) Dimension of the bottom of leads.</text>
    <text x="16" y="1871.3">Note 2) These dimensions are valid only in the range of 0</text><text x="238.7" y="1871.3" textLength="152.5" lengthAdjust="spacing">0.75mm below from the reference plane.</text>
    <text x="16" y="1882">Note 3) These dimensions are defined from the imaginary circle which goes through the three points around the stem to the bottom of cut off parts.</text>
  </g>
</g>

<!-- ============ TOP VIEW DRAWING ============ -->
<defs>
  <marker id="ar" viewBox="0 0 10 10" refX="10" refY="5" markerWidth="5" markerHeight="5" orient="auto-start-reverse" markerUnits="userSpaceOnUse">
    <path d="M0 1.5 L10 5 L0 8.5 Z" fill="#333"/>
  </marker>
  <marker id="arL" viewBox="0 0 10 10" refX="10" refY="5" markerWidth="8" markerHeight="8" orient="auto-start-reverse" markerUnits="userSpaceOnUse">
    <path d="M0 1 L10 5 L0 9" fill="none" stroke="#222" stroke-width="1.3"/>
  </marker>
</defs>
<g id="topview" fill="none" stroke="#3a3a3a" stroke-width="0.75">
  <!-- axes -->
  <line x1="165.5" y1="1384" x2="165.5" y2="1560" stroke-dasharray="4,1.5,1,1.5" marker-start="url(#ar)"/>
  <line x1="38" y1="1490" x2="300" y2="1490" stroke-dasharray="4,1.5,1,1.5" marker-start="url(#ar)"/>
  <!-- outer outline with notches -->
  <path d="M156 1434.65 A56 56 0 0 0 110.04 1483.6 L114.4 1483.6 L114.4 1496 L110.04 1496 A56 56 0 0 0 157.3 1545.17 L162.9 1540.8 L168.3 1540.8 L173.8 1545.2 A56 56 0 0 0 172.5 1434.2"/>
  <path d="M156 1434.65 L165.8 1439.5 L172.5 1434.2"/>
  <circle cx="165.8" cy="1489.6" r="47.3" stroke-width="0.85"/>
  <circle cx="165.7" cy="1489.6" r="41.8" stroke-width="0.85"/>
  <!-- 90 deg arc -->
  <path d="M148.3 1422.5 A24.5 24.5 0 0 1 183.3 1422.5" marker-start="url(#ar)" marker-end="url(#ar)"/>
  <line x1="148.3" y1="1422.5" x2="165.8" y2="1439.5"/>
  <line x1="183.3" y1="1422.5" x2="165.8" y2="1439.5"/>
  <!-- dashed circles -->
  <circle cx="165.4" cy="1490.2" r="15.6" stroke-dasharray="2.5,1.5"/>
  <circle cx="177.7" cy="1490.2" r="16" stroke-dasharray="2.5,1.5"/>
  <!-- pins -->
  <circle cx="177.7" cy="1474" r="3.4"/>
  <circle cx="177.7" cy="1506.2" r="3.4"/>
  <line x1="177.7" y1="1477.4" x2="177.7" y2="1502.8" stroke-dasharray="2,1"/>
  <line x1="177.7" y1="1509.6" x2="177.7" y2="1557.5"/>
  <!-- right dims -->
  <line x1="185.2" y1="1432.5" x2="266.5" y2="1432.5"/>
  <line x1="174.7" y1="1440.7" x2="266.5" y2="1440.7"/>
  <line x1="265.3" y1="1387" x2="265.3" y2="1432.5" marker-end="url(#ar)"/>
  <line x1="265.3" y1="1460.5" x2="265.3" y2="1440.7" marker-end="url(#ar)"/>
  <line x1="181" y1="1474" x2="266.5" y2="1474"/>
  <line x1="181" y1="1506.2" x2="266.5" y2="1506.2"/>
  <line x1="265.3" y1="1490" x2="265.3" y2="1474" marker-end="url(#ar)"/>
  <line x1="265.3" y1="1490" x2="265.3" y2="1506.2" marker-end="url(#ar)"/>
  <line x1="220.5" y1="1469.8" x2="287" y2="1467.5"/>
  <circle cx="297.3" cy="1467.8" r="4.3" stroke-width="0.6"/>
  <!-- left dims -->
  <line x1="84" y1="1483.6" x2="110.2" y2="1483.6"/>
  <line x1="84" y1="1496" x2="110.4" y2="1496"/>
  <line x1="85.4" y1="1437" x2="85.4" y2="1483.6" marker-end="url(#ar)"/>
  <line x1="85.4" y1="1510" x2="85.4" y2="1496" marker-end="url(#ar)"/>
  <line x1="109.8" y1="1496" x2="109.8" y2="1542.5"/>
  <line x1="114.3" y1="1496" x2="114.3" y2="1542.5"/>
  <line x1="68.2" y1="1540.5" x2="109.8" y2="1540.5" marker-end="url(#ar)"/>
  <line x1="122" y1="1540.5" x2="114.3" y2="1540.5" marker-end="url(#ar)"/>
  <!-- bottom dim -->
  <line x1="154.7" y1="1554" x2="165.5" y2="1554" marker-end="url(#ar)"/>
  <line x1="218.7" y1="1554" x2="177.7" y2="1554" marker-end="url(#ar)"/>
  <!-- emission leader -->
  <line x1="107.2" y1="1569.3" x2="165.4" y2="1490.2"/>
</g>
<g id="topview-text" class="mono" fill="#5a5a5a">
  <text x="172" y="1387.5" font-size="8">X</text>
  <text x="127.7" y="1400.7" font-size="8.6" textLength="28.6" lengthAdjust="spacingAndGlyphs">Note2)</text>
  <text x="152.7" y="1412.7" font-size="8.6" textLength="10.2" lengthAdjust="spacingAndGlyphs">90</text>
  <text x="163" y="1408.5" font-size="6">°</text>
  <text x="174" y="1412.7" font-size="8.6" textLength="14" lengthAdjust="spacingAndGlyphs">±2</text>
  <text x="42.5" y="1500.5" font-size="8">Y</text>
  <text x="184.5" y="1471" font-size="8.6">1</text>
  <text x="184.5" y="1518.7" font-size="8.6">2</text>
  <text transform="translate(252 1427.3) rotate(-90)" font-size="8.6" textLength="26" lengthAdjust="spacingAndGlyphs">Note3)</text>
  <text transform="translate(263.6 1427.3) rotate(-90)" font-size="8.6" textLength="39.8" lengthAdjust="spacingAndGlyphs">0.65±0.1</text>
  <text transform="translate(251.5 1503.3) rotate(-90)" font-size="8.6" textLength="26" lengthAdjust="spacingAndGlyphs">Note1)</text>
  <text transform="translate(263 1503.3) rotate(-90)" font-size="8.6" textLength="27.4" lengthAdjust="spacingAndGlyphs">φ2.54</text>
  <text transform="translate(71.3 1481.3) rotate(-90)" font-size="8.6" textLength="25.6" lengthAdjust="spacingAndGlyphs">Note2)</text>
  <text transform="translate(84.2 1471.3) rotate(-90)" font-size="8.6" textLength="30.6" lengthAdjust="spacingAndGlyphs">1±0.15</text>
  <text x="47.6" y="1523.4" font-size="8.6" textLength="29.2" lengthAdjust="spacingAndGlyphs">Note3)</text>
  <text x="72.5" y="1535.3" font-size="8.6" textLength="39" lengthAdjust="spacingAndGlyphs">0.4±0.1</text>
  <text x="189.3" y="1550.7" font-size="8.6" textLength="40" lengthAdjust="spacingAndGlyphs">1.0±0.1</text>
  <text x="64.9" y="1577" font-size="8.6" textLength="69.4" lengthAdjust="spacingAndGlyphs">Emission point</text>
  <text x="297.3" y="1470.5" font-size="6.5" text-anchor="middle">2</text>
</g>

<!-- ============ SIDE VIEW DRAWING ============ -->
<g id="sideview" fill="none" stroke="#3a3a3a" stroke-width="0.75">
  <!-- Z axis -->
  <line x1="165.3" y1="1578" x2="165.3" y2="1833" stroke-dasharray="4,1.5,1,1.5" marker-start="url(#ar)"/>
  <!-- dimension lines for diameters -->
  <line x1="109.8" y1="1616.3" x2="221.3" y2="1616.3" marker-start="url(#ar)" marker-end="url(#ar)"/>
  <line x1="119.3" y1="1629.2" x2="212.5" y2="1629.2" marker-start="url(#ar)" marker-end="url(#ar)"/>
  <line x1="124.3" y1="1642" x2="206.8" y2="1642" marker-start="url(#ar)" marker-end="url(#ar)"/>
  <line x1="150.2" y1="1654.8" x2="181.2" y2="1654.8" marker-start="url(#ar)" marker-end="url(#ar)"/>
  <!-- extension lines -->
  <line x1="109.8" y1="1613" x2="109.8" y2="1710"/>
  <line x1="221.3" y1="1613" x2="221.3" y2="1710"/>
  <line x1="119.3" y1="1626" x2="119.3" y2="1708.5"/>
  <line x1="212.5" y1="1626" x2="212.5" y2="1708.5"/>
  <line x1="150.2" y1="1652" x2="150.2" y2="1679.5"/>
  <line x1="181.2" y1="1652" x2="181.2" y2="1679.5"/>
  <!-- cap -->
  <path d="M124.5 1708.5 L124.5 1679.5 Q124.5 1674.2 129.8 1674.2 L202 1674.2 Q207.3 1674.2 207.3 1679.5 L207.3 1708.5"/>
  <line x1="124.5" y1="1639" x2="124.5" y2="1680"/>
  <line x1="206.8" y1="1639" x2="206.8" y2="1680"/>
  <line x1="119.3" y1="1708.5" x2="212.5" y2="1708.5"/>
  <!-- window & chip -->
  <rect x="150.2" y="1679.3" width="31" height="2.9" stroke-dasharray="2,1"/>
  <rect x="161.8" y="1680.5" width="4" height="24"/>
  <!-- flange -->
  <rect x="109.8" y="1710.1" width="111.5" height="19.4"/>
  <line x1="114.5" y1="1710.1" x2="114.5" y2="1729.5" stroke-dasharray="1.5,1"/>
  <line x1="158.3" y1="1710.1" x2="158.3" y2="1729.5"/>
  <line x1="173.5" y1="1710.1" x2="173.5" y2="1729.5"/>
  <!-- left dims -->
  <line x1="58" y1="1674" x2="124.5" y2="1674"/>
  <line x1="77" y1="1685" x2="161.8" y2="1685"/>
  <line x1="59.7" y1="1710.2" x2="109.8" y2="1710.2"/>
  <line x1="59.7" y1="1729.6" x2="109.8" y2="1729.6"/>
  <line x1="60" y1="1692" x2="60" y2="1674" marker-end="url(#ar)"/>
  <line x1="60" y1="1692" x2="60" y2="1710.1" marker-end="url(#ar)"/>
  <line x1="78.7" y1="1697" x2="78.7" y2="1685" marker-end="url(#ar)"/>
  <line x1="78.7" y1="1697" x2="78.7" y2="1710.1" marker-end="url(#ar)"/>
  <line x1="60" y1="1761.7" x2="60" y2="1729.7" marker-end="url(#ar)"/>
  <line x1="78.7" y1="1770" x2="78.7" y2="1729.7" marker-end="url(#ar)"/>
  <line x1="78.7" y1="1770" x2="78.7" y2="1812.5" marker-end="url(#ar)"/>
  <line x1="78.7" y1="1812.5" x2="174.2" y2="1812.5"/>
  <!-- pin -->
  <rect x="174.2" y="1729.5" width="7.5" height="83"/>
  <!-- pin dims -->
  <line x1="154.6" y1="1798" x2="174.2" y2="1798" marker-end="url(#ar)"/>
  <line x1="275.4" y1="1798" x2="181.7" y2="1798" marker-end="url(#ar)"/>
  <line x1="129.6" y1="1781.7" x2="177.5" y2="1768"/>
  <circle cx="121.3" cy="1782.3" r="4" stroke-width="0.5"/>
  <!-- right dims -->
  <line x1="181.2" y1="1679" x2="253.5" y2="1679"/>
  <line x1="170" y1="1682.8" x2="253.5" y2="1682.8"/>
  <line x1="252" y1="1617.3" x2="252" y2="1679" marker-end="url(#ar)"/>
  <line x1="252" y1="1690" x2="252" y2="1682.8" marker-end="url(#ar)"/>
  <line x1="221.3" y1="1710.1" x2="236" y2="1710.1"/>
  <line x1="221.3" y1="1729.3" x2="252" y2="1729.3"/>
  <line x1="250.2" y1="1716" x2="250.2" y2="1729.3" marker-end="url(#ar)"/>
  <line x1="250.2" y1="1780" x2="250.2" y2="1729.3"/>
  <!-- reference plane leader -->
  <polyline points="222.7,1710.1 265.3,1690.7 344,1690.7"/>
  <!-- leaders -->
  <line x1="84.4" y1="1582.3" x2="164.2" y2="1679.3"/>
  <line x1="234.7" y1="1595.5" x2="162.5" y2="1682.5"/>
  <line x1="258.1" y1="1606.7" x2="165" y2="1687.5"/>
  <line x1="59.2" y1="1625" x2="125.5" y2="1692.5"/>
  <circle cx="242.7" cy="1588" r="4" stroke-width="0.5"/>
  <circle cx="268" cy="1601.3" r="4" stroke-width="0.5"/>
  <circle cx="51.3" cy="1618" r="4" stroke-width="0.5"/>
</g>
<g id="sideview-text" class="mono" fill="#5a5a5a">
  <text x="169.5" y="1584.5" font-size="8">Z</text>
  <text x="115" y="1601.9" font-size="8.6" textLength="70.7" lengthAdjust="spacingAndGlyphs">Note2) φ9.0+0</text>
  <text x="177" y="1614" font-size="8.6" textLength="29.2" lengthAdjust="spacingAndGlyphs">-0.025</text>
  <text x="146.7" y="1625.2" font-size="8.6" textLength="43.1" lengthAdjust="spacingAndGlyphs">φ7.5 MAX</text>
  <text x="141.5" y="1637.8" font-size="8.6" textLength="53" lengthAdjust="spacingAndGlyphs">φ6.64±0.1</text>
  <text x="145.5" y="1650.9" font-size="8.6" textLength="44.3" lengthAdjust="spacingAndGlyphs">φ2.5 MIN</text>
  <text x="242.7" y="1590.4" font-size="6.5" text-anchor="middle">4</text>
  <text x="268" y="1603.7" font-size="6.5" text-anchor="middle">1</text>
  <text x="51.3" y="1620.4" font-size="6.5" text-anchor="middle">3</text>
  <text x="121.3" y="1784.7" font-size="6.5" text-anchor="middle">5</text>
  <text transform="translate(250.7 1666.7) rotate(-90)" font-size="8.6" textLength="44" lengthAdjust="spacingAndGlyphs">0.25±0.03</text>
  <text x="270.7" y="1687.2" font-size="8.6" textLength="75.4" lengthAdjust="spacingAndGlyphs">REFERENCE PLANE</text>
  <text x="273.3" y="1699.5" font-size="8.6" textLength="73.9" lengthAdjust="spacingAndGlyphs">(Tc measurement</text>
  <text x="277.3" y="1711.2" font-size="8.6" textLength="28.8" lengthAdjust="spacingAndGlyphs">point)</text>
  <text transform="translate(54.6 1704.2) rotate(-90)" font-size="8.6" textLength="40" lengthAdjust="spacingAndGlyphs">2.85±0.5</text>
  <text transform="translate(76.2 1703.3) rotate(-90)" font-size="8.6" textLength="40.4" lengthAdjust="spacingAndGlyphs">1.9±0.08</text>
  <text transform="translate(56.25 1766.25) rotate(-90)" font-size="8.6" textLength="33.75" lengthAdjust="spacingAndGlyphs">1.5±0.1</text>
  <text transform="translate(76.7 1790) rotate(-90)" font-size="8.6" textLength="35.4" lengthAdjust="spacingAndGlyphs">6.5±0.5</text>
  <text transform="translate(249 1770) rotate(-90)" font-size="8.6" textLength="33.3" lengthAdjust="spacingAndGlyphs">0.1MAX</text>
  <text x="202.5" y="1790.8" font-size="8.6" textLength="60.5" lengthAdjust="spacingAndGlyphs">2-φ0.6±0.1</text>
  <text x="175.4" y="1820.8" font-size="8.6" textLength="13.6" lengthAdjust="spacingAndGlyphs">1.2</text>
</g>

<!-- ============ ENLARGED DRAWING BOX ============ -->
<g id="enlarged" fill="none" stroke="#222" stroke-width="1">
  <rect x="380.5" y="1385.5" width="188.5" height="236" stroke="#333"/>
  <line x1="472.2" y1="1440" x2="472.2" y2="1565.2" marker-start="url(#arL)"/>
  <line x1="545" y1="1519" x2="401" y2="1519" marker-end="url(#arL)"/>
  <line x1="455.8" y1="1478.8" x2="509" y2="1478.8"/>
  <line x1="511" y1="1481" x2="511" y2="1533"/>
  <line x1="461.7" y1="1481" x2="461.7" y2="1517" marker-start="url(#ar)" marker-end="url(#ar)"/>
  <line x1="474.5" y1="1527.8" x2="509" y2="1527.8" marker-start="url(#ar)" marker-end="url(#ar)"/>
  <line x1="425.3" y1="1570.8" x2="467" y2="1523.5" marker-end="url(#ar)"/>
  <line x1="525.8" y1="1452.7" x2="513.5" y2="1474" marker-end="url(#ar)"/>
  <circle cx="472.2" cy="1519" r="2.2" fill="#fff" stroke-width="1"/>
  <circle cx="511" cy="1478.8" r="2.2" fill="#fff" stroke-width="1"/>
</g>
<g id="enl-text" class="mono" fill="#444">
  <text x="388.2" y="1400" font-size="10.4" textLength="82.3" lengthAdjust="spacingAndGlyphs">Enlarged drawing</text>
  <text x="388.2" y="1412" font-size="10.4" textLength="128.1" lengthAdjust="spacingAndGlyphs">around the emission point</text>
  <text x="484.4" y="1447.8" font-size="10.4" textLength="71.5" lengthAdjust="spacingAndGlyphs">Emission point</text>
  <text x="463" y="1452.4" font-size="10.5">X</text>
  <text x="405.5" y="1511" font-size="9.5">Y</text>
  <text x="418" y="1501.5" font-size="10.4" textLength="36" lengthAdjust="spacingAndGlyphs">0±0.08</text>
  <text x="485.5" y="1546.3" font-size="10.4" textLength="35.7" lengthAdjust="spacingAndGlyphs">0±0.08</text>
  <text x="395.2" y="1580.7" font-size="10.4" textLength="155" lengthAdjust="spacingAndGlyphs">Center of the imaginary circle</text>
  <text x="395.2" y="1593.7" font-size="10.4" textLength="144.6" lengthAdjust="spacingAndGlyphs">which goes through the three</text>
  <text x="395.2" y="1605" font-size="10.4" textLength="108.5" lengthAdjust="spacingAndGlyphs">point around the stem</text>
</g>

<!-- ============ TERMINAL CONNECTIONS BOX ============ -->
<g id="terminal" fill="none" stroke="#222" stroke-width="1">
  <rect x="382.3" y="1646.7" width="185.8" height="162.6" stroke="#333"/>
  <polyline points="405.7,1781.5 405.7,1701 535.6,1701 535.6,1756 484.5,1756"/>
  <line x1="484.5" y1="1701" x2="484.5" y2="1781.5"/>
  <circle cx="405.7" cy="1783.5" r="2" fill="#fff" stroke-width="0.9"/>
  <circle cx="484.5" cy="1783.5" r="2" fill="#fff" stroke-width="0.9"/>
  <circle cx="484.5" cy="1701.3" r="2.6" fill="#111" stroke="none"/>
  <circle cx="484.5" cy="1756.2" r="2.8" fill="#111" stroke="none"/>
  <ellipse cx="484.5" cy="1731.25" rx="18" ry="15.25" fill="#fff"/>
  <line x1="484.5" y1="1716" x2="484.5" y2="1746.5"/>
  <polyline points="472.5,1741.5 484.5,1720 496.5,1741.5"/>
  <line x1="474" y1="1720" x2="495" y2="1720"/>
  <line x1="472" y1="1731" x2="495" y2="1731"/>
  <line x1="472.5" y1="1741.5" x2="496.5" y2="1741.5"/>
  <path d="M477.5 1731 L474.5 1729.8 L474.5 1732.2 Z" fill="#222" stroke="none"/>
  <path d="M524.4 1717.9 L549 1717.9 L535.6 1739.4 Z"/>
  <polyline points="525,1749.7 525,1739.7 548.5,1739.7 548.5,1731.3"/>
  <line x1="465.5" y1="1742.5" x2="459.8" y2="1745.6" stroke-width="0.8" marker-end="url(#ar)"/>
  <line x1="469.5" y1="1745.5" x2="463.8" y2="1749.1" stroke-width="0.8" marker-end="url(#ar)"/>
</g>
<g id="term-text" class="mono" fill="#444">
  <text x="403.7" y="1662.3" font-size="9.6" textLength="36.6" lengthAdjust="spacingAndGlyphs">Terminal</text>
  <text x="403.7" y="1674" font-size="9.6" textLength="52" lengthAdjust="spacingAndGlyphs">connections</text>
  <text x="406.5" y="1795.5" font-size="8.6" text-anchor="middle">2</text>
  <text x="484.5" y="1795.5" font-size="8.6" text-anchor="middle">1</text>
  <text transform="translate(455.5 1757) rotate(-90)" font-size="9.6" textLength="48" lengthAdjust="spacingAndGlyphs">Laser Diode</text>
  <text transform="translate(561.9 1756.3) rotate(-90)" font-size="9.6" textLength="48.1" lengthAdjust="spacingAndGlyphs">Zener Diode</text>
</g>

<!-- ============ SPECIAL GLYPHS ============ -->
<g fill="none" stroke="#1a1a1a" stroke-width="0.95" stroke-linecap="round">
  <path d="M462.4 467.6 C464.2 465.2, 466 465.4, 467 466.6 S469.8 468.6, 471.6 466"/>
  <path d="M466.8 487.4 C468.6 485, 470.4 485.2, 471.4 486.4 S474.2 488.4, 476 485.8"/>
  <path d="M228 1868.8 C229.6 1866.8, 231.2 1867, 232.2 1868 S234.8 1869.6, 236.5 1867.4" stroke-width="1.1"/>
  <line x1="285.9" y1="839.6" x2="288.4" y2="830.6" stroke="#333" stroke-width="0.8"/>
  <line x1="288.3" y1="839.6" x2="290.8" y2="830.6" stroke="#333" stroke-width="0.8"/>
  <line x1="288.5" y1="845.7" x2="288.5" y2="853.4" stroke="#222" stroke-width="0.9"/>
  <line x1="284.8" y1="853.5" x2="292.2" y2="853.5" stroke="#222" stroke-width="0.9"/>
</g>

</svg>
</body>
</html>
